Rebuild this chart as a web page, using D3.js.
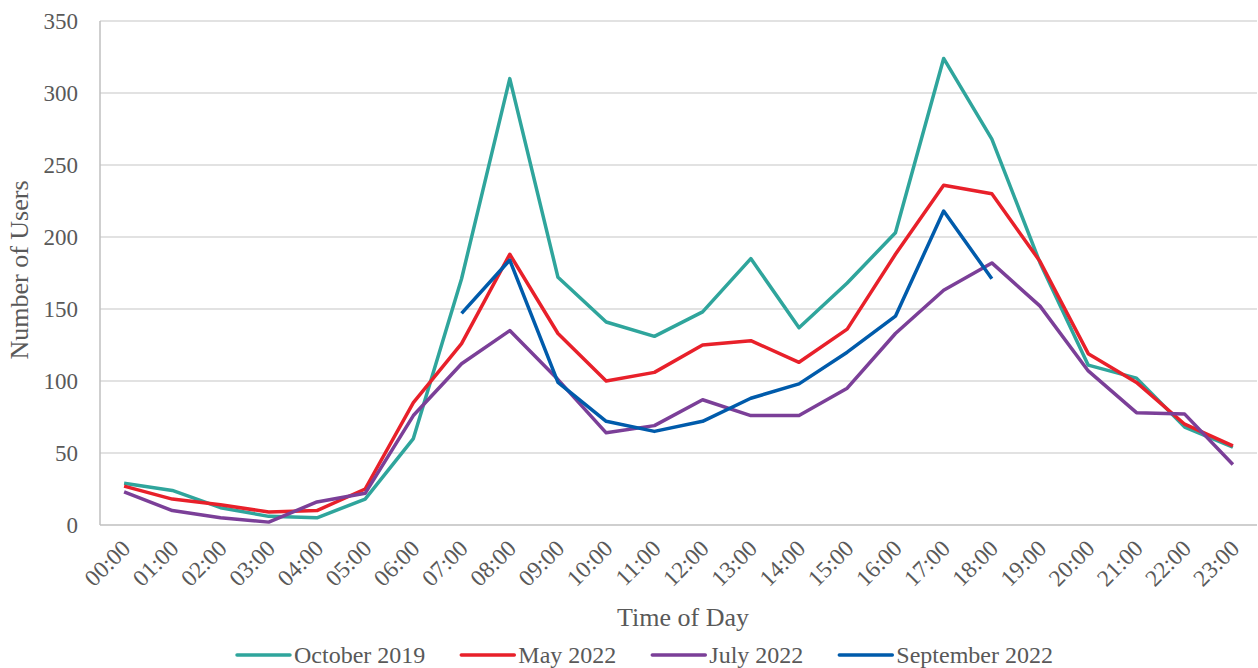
<!DOCTYPE html>
<html>
<head>
<meta charset="utf-8">
<script src="https://cdn.jsdelivr.net/npm/d3@7"></script>
<style>
  html, body { margin: 0; padding: 0; background: #fff; }
  svg { display: block; }
  text { font-family: "Liberation Serif", "Times New Roman", serif; fill: #595959; }
</style>
</head>
<body>
<svg id="chart" width="1258" height="668"></svg>
<script>
const hours = ["00:00","01:00","02:00","03:00","04:00","05:00","06:00","07:00","08:00","09:00","10:00","11:00",
               "12:00","13:00","14:00","15:00","16:00","17:00","18:00","19:00","20:00","21:00","22:00","23:00"];
const october2019 = [29,24,12,6,5,18,60,171,310,172,141,131,148,185,137,168,203,324,268,182,111,102,68,54];
const may2022     = [27,18,14,9,10,25,85,126,188,133,100,106,125,128,113,136,188,236,230,183,119,99,70,55];
const july2022    = [23,10,5,2,16,22,76,112,135,101,64,69,87,76,76,95,133,163,182,152,107,78,77,42];
const september2022 = [null,null,null,null,null,null,null,147,184,99,72,65,72,88,98,120,145,218,171,null,null,null,null,null];
const seriesNames = ["October 2019","May 2022","July 2022","September 2022"];
const seriesColors = ["#2fa59c","#e8202a","#7b3f98","#005bab"];
const yTicks = [0,50,100,150,200,250,300,350];

const series = [october2019, may2022, july2022, september2022];

const svg = d3.select("#chart");
const mLeft = 100, mRight = 1257, mTop = 21, mBottom = 525;

const x = d3.scaleBand().domain(hours).range([mLeft, mRight]);
const y = d3.scaleLinear().domain([0, 350]).range([mBottom, mTop]);

// gridlines
svg.append("g").selectAll("line").data(yTicks.filter(d => d > 0)).join("line")
  .attr("x1", mLeft).attr("x2", mRight)
  .attr("y1", d => y(d)).attr("y2", d => y(d))
  .attr("stroke", "#d9d9d9").attr("stroke-width", 1.5);

// axes lines
svg.append("line").attr("x1", mLeft).attr("x2", mLeft).attr("y1", mTop).attr("y2", mBottom)
  .attr("stroke", "#bfbfbf").attr("stroke-width", 1.5);
svg.append("line").attr("x1", mLeft).attr("x2", mRight).attr("y1", mBottom).attr("y2", mBottom)
  .attr("stroke", "#bfbfbf").attr("stroke-width", 1.5);

// y tick labels
svg.append("g").selectAll("text").data(yTicks).join("text")
  .attr("x", 78).attr("y", d => y(d)).attr("dy", "0.35em")
  .attr("text-anchor", "end").style("font-size", "23px")
  .text(d => d);

// x tick labels rotated
svg.append("g").selectAll("text").data(hours).join("text")
  .attr("transform", d => `translate(${x(d) + x.bandwidth()/2 + 2},${mBottom + 19}) rotate(-45)`)
  .attr("text-anchor", "end").attr("dy", "0.35em")
  .style("font-size", "23.5px")
  .text(d => d);

// axis titles
svg.append("text").attr("x", 683).attr("y", 626).attr("text-anchor", "middle")
  .style("font-size", "26px").text("Time of Day");
svg.append("text").attr("transform", "translate(28,270) rotate(-90)").attr("text-anchor", "middle")
  .style("font-size", "26px").text("Number of Users");

// lines
const line = d3.line()
  .defined(d => d.v !== null)
  .x(d => x(d.h) + x.bandwidth()/2)
  .y(d => y(d.v));

series.forEach((s, i) => {
  svg.append("path")
    .datum(hours.map((h, j) => ({h, v: s[j]})))
    .attr("fill", "none")
    .attr("stroke", seriesColors[i])
    .attr("stroke-width", 3.5)
    .attr("stroke-linejoin", "round")
    .attr("d", line);
});

// legend
const legend = svg.append("g");
let lx = 237;
const ly = 655;
seriesNames.forEach((name, i) => {
  legend.append("line").attr("x1", lx).attr("x2", lx + 53).attr("y1", ly).attr("y2", ly)
    .attr("stroke", seriesColors[i]).attr("stroke-width", 3.5).attr("stroke-linecap", "round");
  const t = legend.append("text").attr("x", lx + 57).attr("y", ly).attr("dy", "0.35em")
    .style("font-size", "24px").text(name);
  const w = t.node().getComputedTextLength();
  lx = lx + 57 + w + 36;
});
</script>
</body>
</html>
